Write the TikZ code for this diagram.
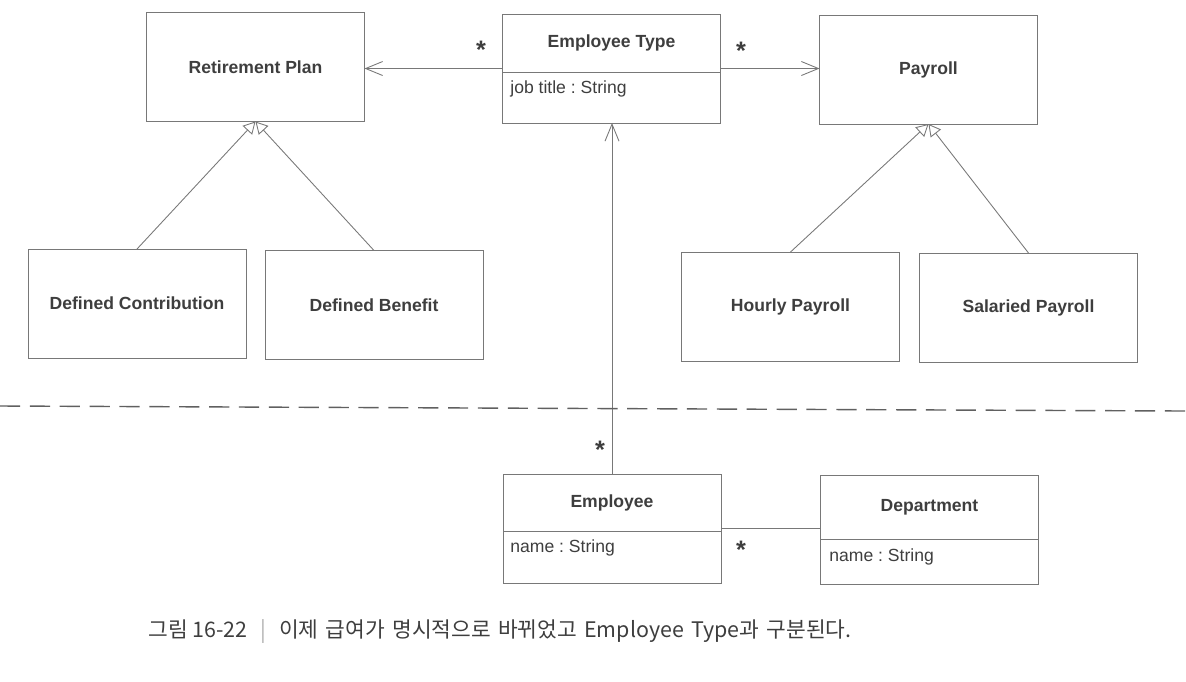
\documentclass[tikz,border=0pt]{standalone}
\usepackage{fontspec}
\setmainfont{Liberation Sans}
\newfontfamily\hangul{Noto Sans CJK KR}
\usepackage{xcolor}
\definecolor{grisLinea}{RGB}{120,120,120}
\definecolor{grisTexto}{RGB}{62,62,62}
\definecolor{grisBarra}{RGB}{175,175,175}
\usepackage{tikz}
\usetikzlibrary{arrows.meta,positioning,calc}
\tikzstyle{classbox}=[rectangle, draw=grisLinea, line width=0.5pt,
                      minimum width=4.36cm, minimum height=2.18cm,
                      inner sep=0pt, outer sep=0pt, text=grisTexto,
                      font=\bfseries]
\tikzstyle{title}   =[inner sep=0pt, text=grisTexto, font=\bfseries]
\tikzstyle{attr}    =[inner sep=0pt, anchor=west, text=grisTexto]
\tikzstyle{mult}    =[inner sep=0pt, anchor=north, text=grisTexto,
                      font=\bfseries\Large]
\tikzstyle{assoc}   =[draw=grisLinea, line width=0.5pt,
                      -{Straight Barb[length=0.34cm,width=0.28cm]}]
\tikzstyle{gen}     =[draw=grisLinea, line width=0.5pt,
                      -{Triangle[open,length=0.24cm,width=0.26cm]}]
\frenchspacing

\begin{document}
\begin{tikzpicture}[x=0.02cm,y=-0.02cm]
    \useasboundingbox (0,0) rectangle (1186,681);

        % upper part
        \draw (255.5,67) node (rp) [classbox] {Retirement Plan};
        \draw (611.5,68.5) node (et) [classbox] {};
        \draw (928.5,69.5) node (pay) [classbox] {Payroll};
        \draw (137,303.5) node (dc) [classbox] {Defined Contribution};
        \draw (374,305) node (db) [classbox] {Defined Benefit};
        \draw (790.5,306.5) node (hp) [classbox] {Hourly Payroll};
        \draw (1028.5,307.5) node (sp) [classbox] {Salaried Payroll};

        \draw (611.5,43) node (ettitle) [title] {Employee Type};
        \draw (510,89) node (etattr) [attr] {job title : String};
        \draw [grisLinea, line width=0.5pt] (et.west |- 0,72) -- (et.east |- 0,72);

        % lower part
        \draw (612,528.5) node (emp) [classbox] {};
        \draw (929.5,529.5) node (dep) [classbox] {};

        \draw (612,502.5) node (emptitle) [title] {Employee};
        \draw (510,548) node (empattr) [attr] {name : String};
        \draw [grisLinea, line width=0.5pt] (emp.west |- 0,531) -- (emp.east |- 0,531);

        \draw (929.5,507.5) node (deptitle) [title] {Department};
        \draw (829,557) node (depattr) [attr] {name : String};
        \draw [grisLinea, line width=0.5pt] (dep.west |- 0,539) -- (dep.east |- 0,539);

        % connectors
        \foreach \i/\j in {dc/rp,db/rp,hp/pay,sp/pay}
            \draw [gen] (\i.north) to (\j.south);

        \draw [assoc] (et.west) -- (et.west -| rp.east);
        \draw [assoc] (et.east) -- (et.east -| pay.west);
        \draw [assoc] (emp.north) -- (emp.north |- et.south);
        \draw [grisLinea, line width=0.5pt] (emp.east) -- (emp.east -| dep.west);

        \draw (481,41) node (m1) [mult] {*};
        \draw (741,42) node (m2) [mult] {*};
        \draw (600,441) node (m3) [mult] {*};
        \draw (741,541) node (m4) [mult] {*};

        % separator
        \coordinate (sepL) at (0,406);
        \coordinate (sepR) at (1186,411);
        \draw [grisLinea!80!black, line width=0.8pt, dash pattern=on 11.5pt off 5.5pt] (sepL) -- (sepR);

        % caption
        \draw (148,631) node (caption) [anchor=west, inner sep=0pt, text=grisTexto,
              font=\hangul\fontsize{12.2}{14}\selectfont]
              {그림 16-22\hspace{0.6em}{\color{grisBarra}|}\hspace{0.6em}\spaceskip=0.34em 이제 급여가 명시적으로 바뀌었고 Employee Type과 구분된다.};

\end{tikzpicture}
\end{document}
